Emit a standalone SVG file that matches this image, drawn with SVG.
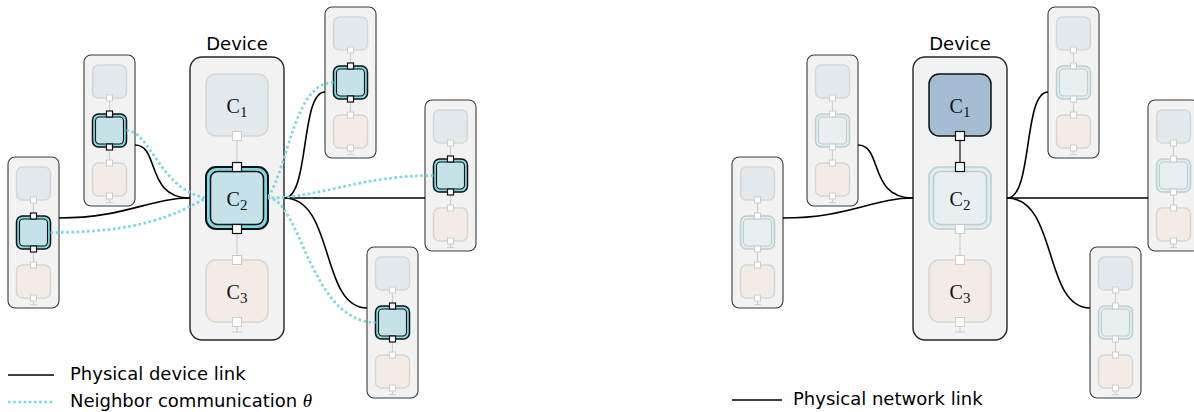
<svg xmlns="http://www.w3.org/2000/svg" width="1194" height="412" viewBox="0 0 1194 412">
  <style>
    .dev{fill:#f2f2f2;stroke:#262626;stroke-width:1.4}
    .mdev{fill:#f2f2f2;stroke:#3a3a3a;stroke-width:1.1}
    .c1{fill:#e3e8ec;stroke:#d4d7d9;stroke-width:1.5}
    .c3{fill:#f3ece6;stroke:#d9d6d2;stroke-width:1.5}
    .port{fill:#fcfcfc;stroke:#cdcdcd;stroke-width:1}
    .port-on{fill:#fff;stroke:#111;stroke-width:1.2}
    .wire{fill:none;stroke:#cfcfcf;stroke-width:1.2}
    .wire-on{fill:none;stroke:#333;stroke-width:1.4}
    .band-on{fill:#7fd8e3;stroke:#111;stroke-width:2}
    .core-on{fill:#c4e2e8;stroke:#111;stroke-width:1.5}
    .band-off{fill:#d9eff0;stroke:#c3cdcf;stroke-width:1.5}
    .core-off{fill:#e8eff1;stroke:#c3cbcd;stroke-width:1.5}
    .c1-on{fill:#a6bcd3;stroke:#111;stroke-width:1.5}
    .link{fill:none;stroke:#000;stroke-width:1.6}
    .nbr{fill:none;stroke:#78d9e5;stroke-width:2.7;stroke-dasharray:2.6 2.6}
    .title{font-family:"DejaVu Sans",sans-serif;font-size:18px;fill:#000}
    .lbl{font-family:"Liberation Serif",serif;font-size:20px;fill:#111}
    .sub{font-family:"Liberation Serif",serif;font-size:15px}
  </style>
  <defs>
    <!-- small peer device, middle component active -->
    <g id="mini-active">
      <rect class="mdev" x="0" y="0" width="51" height="151" rx="7"/>
      <path class="wire" d="M25.5,43V59M25.5,92V108M25.5,141V147.5M22,147.5H29"/>
      <rect class="c1" x="8.5" y="10" width="34" height="33" rx="6"/>
      <rect class="band-on" x="8.5" y="59" width="34" height="33" rx="6" style="stroke-width:1.5"/>
      <rect class="core-on" x="11.5" y="62" width="28" height="27" rx="4" style="stroke-width:1.1"/>
      <rect class="c3" x="8.5" y="108" width="34" height="33" rx="6"/>
      <rect class="port" x="22.5" y="40" width="6" height="6"/>
      <rect class="port-on" x="22.5" y="56" width="6" height="6"/>
      <rect class="port-on" x="22.5" y="89" width="6" height="6"/>
      <rect class="port" x="22.5" y="105" width="6" height="6"/>
      <rect class="port" x="22.5" y="138" width="6" height="6"/>
    </g>
    <!-- small peer device, all components idle -->
    <g id="mini-idle">
      <rect class="mdev" x="0" y="0" width="51" height="151" rx="7"/>
      <path class="wire" d="M25.5,43V59M25.5,92V108M25.5,141V147.5M22,147.5H29"/>
      <rect class="c1" x="8.5" y="10" width="34" height="33" rx="6"/>
      <rect class="band-off" x="8.5" y="59" width="34" height="33" rx="6"/>
      <rect class="core-off" x="11.5" y="62" width="28" height="27" rx="4" style="stroke-width:1.1"/>
      <rect class="c3" x="8.5" y="108" width="34" height="33" rx="6"/>
      <rect class="port" x="22.5" y="40" width="6" height="6"/>
      <rect class="port" x="22.5" y="56" width="6" height="6"/>
      <rect class="port" x="22.5" y="89" width="6" height="6"/>
      <rect class="port" x="22.5" y="105" width="6" height="6"/>
      <rect class="port" x="22.5" y="138" width="6" height="6"/>
    </g>
  </defs>

  <!-- left: device with its neighbours -->
  <g id="device-left" transform="translate(190,57)">
    <text class="title" x="47" y="-7" text-anchor="middle">Device</text>
    <rect class="dev" width="94" height="283" rx="12"/>
    <path class="wire" d="M47,79V110M47,172V203M47,265V275M42,275H52"/>
    <rect class="c1" x="16" y="17" width="62" height="62" rx="10"/>
    <rect class="band-on" x="16" y="110" width="62" height="62" rx="10"/>
    <rect class="core-on" x="20.5" y="114.5" width="53" height="53" rx="7"/>
    <rect class="c3" x="16" y="203" width="62" height="62" rx="10"/>
    <rect class="port" x="42.5" y="74.5" width="9" height="9"/>
    <rect class="port-on" x="42.5" y="105.5" width="9" height="9"/>
    <rect class="port-on" x="42.5" y="167.5" width="9" height="9"/>
    <rect class="port" x="42.5" y="198.5" width="9" height="9"/>
    <rect class="port" x="42.5" y="260.5" width="9" height="9"/>
    <text class="lbl" x="47" y="56" text-anchor="middle">C<tspan class="sub" dy="4">1</tspan></text>
    <text class="lbl" x="47" y="149" text-anchor="middle">C<tspan class="sub" dy="4">2</tspan></text>
    <text class="lbl" x="47" y="242" text-anchor="middle">C<tspan class="sub" dy="4">3</tspan></text>
  </g>
  <g id="peer-left-a" transform="translate(8,157)"><use href="#mini-active"/></g>
  <g id="peer-left-b" transform="translate(84,55)"><use href="#mini-active"/></g>
  <g id="peer-left-c" transform="translate(325,7)"><use href="#mini-active"/></g>
  <g id="peer-left-d" transform="translate(425,100)"><use href="#mini-active"/></g>
  <g id="peer-left-e" transform="translate(367,247)"><use href="#mini-active"/></g>

  <!-- right: device inside the network -->
  <g id="device-right" transform="translate(913,57)">
    <text class="title" x="47" y="-7" text-anchor="middle">Device</text>
    <rect class="dev" width="94" height="283" rx="12"/>
    <path class="wire" d="M47,172V203M47,265V275M42,275H52"/>
    <path class="wire-on" d="M47,79V110"/>
    <rect class="c1-on" x="16" y="17" width="62" height="62" rx="10"/>
    <rect class="band-off" x="16" y="110" width="62" height="62" rx="10"/>
    <rect class="core-off" x="20.5" y="114.5" width="53" height="53" rx="7"/>
    <rect class="c3" x="16" y="203" width="62" height="62" rx="10"/>
    <rect class="port-on" x="42.5" y="74.5" width="9" height="9"/>
    <rect class="port-on" x="42.5" y="105.5" width="9" height="9"/>
    <rect class="port" x="42.5" y="167.5" width="9" height="9"/>
    <rect class="port" x="42.5" y="198.5" width="9" height="9"/>
    <rect class="port" x="42.5" y="260.5" width="9" height="9"/>
    <text class="lbl" x="47" y="56" text-anchor="middle">C<tspan class="sub" dy="4">1</tspan></text>
    <text class="lbl" x="47" y="149" text-anchor="middle">C<tspan class="sub" dy="4">2</tspan></text>
    <text class="lbl" x="47" y="242" text-anchor="middle">C<tspan class="sub" dy="4">3</tspan></text>
  </g>
  <g id="peer-right-a" transform="translate(732,157)"><use href="#mini-idle"/></g>
  <g id="peer-right-b" transform="translate(807,55)"><use href="#mini-idle"/></g>
  <g id="peer-right-c" transform="translate(1048,7)"><use href="#mini-idle"/></g>
  <g id="peer-right-d" transform="translate(1148,100)"><use href="#mini-idle"/></g>
  <g id="peer-right-e" transform="translate(1090,247)"><use href="#mini-idle"/></g>

  <!-- physical links and neighbour communication -->
  <g id="connectors">
    <path class="link" d="M59,218C125,218 150,198 190,198"/>
    <path class="link" d="M135,145C160,145 145,198 190,198"/>
    <path class="link" d="M284,198C310,198 300,92 325,92"/>
    <path class="link" d="M284,198H425"/>
    <path class="link" d="M284,198C335,198 320,308 367,308"/>

    <path class="link" d="M783,218C848,218 873,198 913,198"/>
    <path class="link" d="M858,145C883,145 868,198 913,198"/>
    <path class="link" d="M1007,198C1033,198 1023,92 1048,92"/>
    <path class="link" d="M1007,198H1148"/>
    <path class="link" d="M1007,198C1058,198 1043,308 1090,308"/>

    <path class="nbr" d="M50.5,232.5C140,232.5 175,215 206,198"/>
    <path class="nbr" d="M126.5,130.5C150,130.5 160,190 206,198"/>
    <path class="nbr" d="M333.5,82.5C295,82.5 290,160 268,198"/>
    <path class="nbr" d="M433.5,175.5C360,175.5 320,198 268,198"/>
    <path class="nbr" d="M268,198C300,198 310,322 375.5,322.5"/>
  </g>

  <!-- legends -->
  <g id="legend-left">
    <line class="link" x1="8" y1="375" x2="54" y2="375"/>
    <text class="title" x="70" y="380">Physical device link</text>
    <line class="nbr" x1="8" y1="402" x2="54" y2="402"/>
    <text class="title" x="70" y="407">Neighbor communication <tspan font-family="Liberation Serif, serif" font-style="italic" font-size="19">θ</tspan></text>
  </g>
  <g id="legend-right">
    <line class="link" x1="732" y1="400" x2="782" y2="400"/>
    <text class="title" x="793" y="405">Physical network link</text>
  </g>
</svg>
